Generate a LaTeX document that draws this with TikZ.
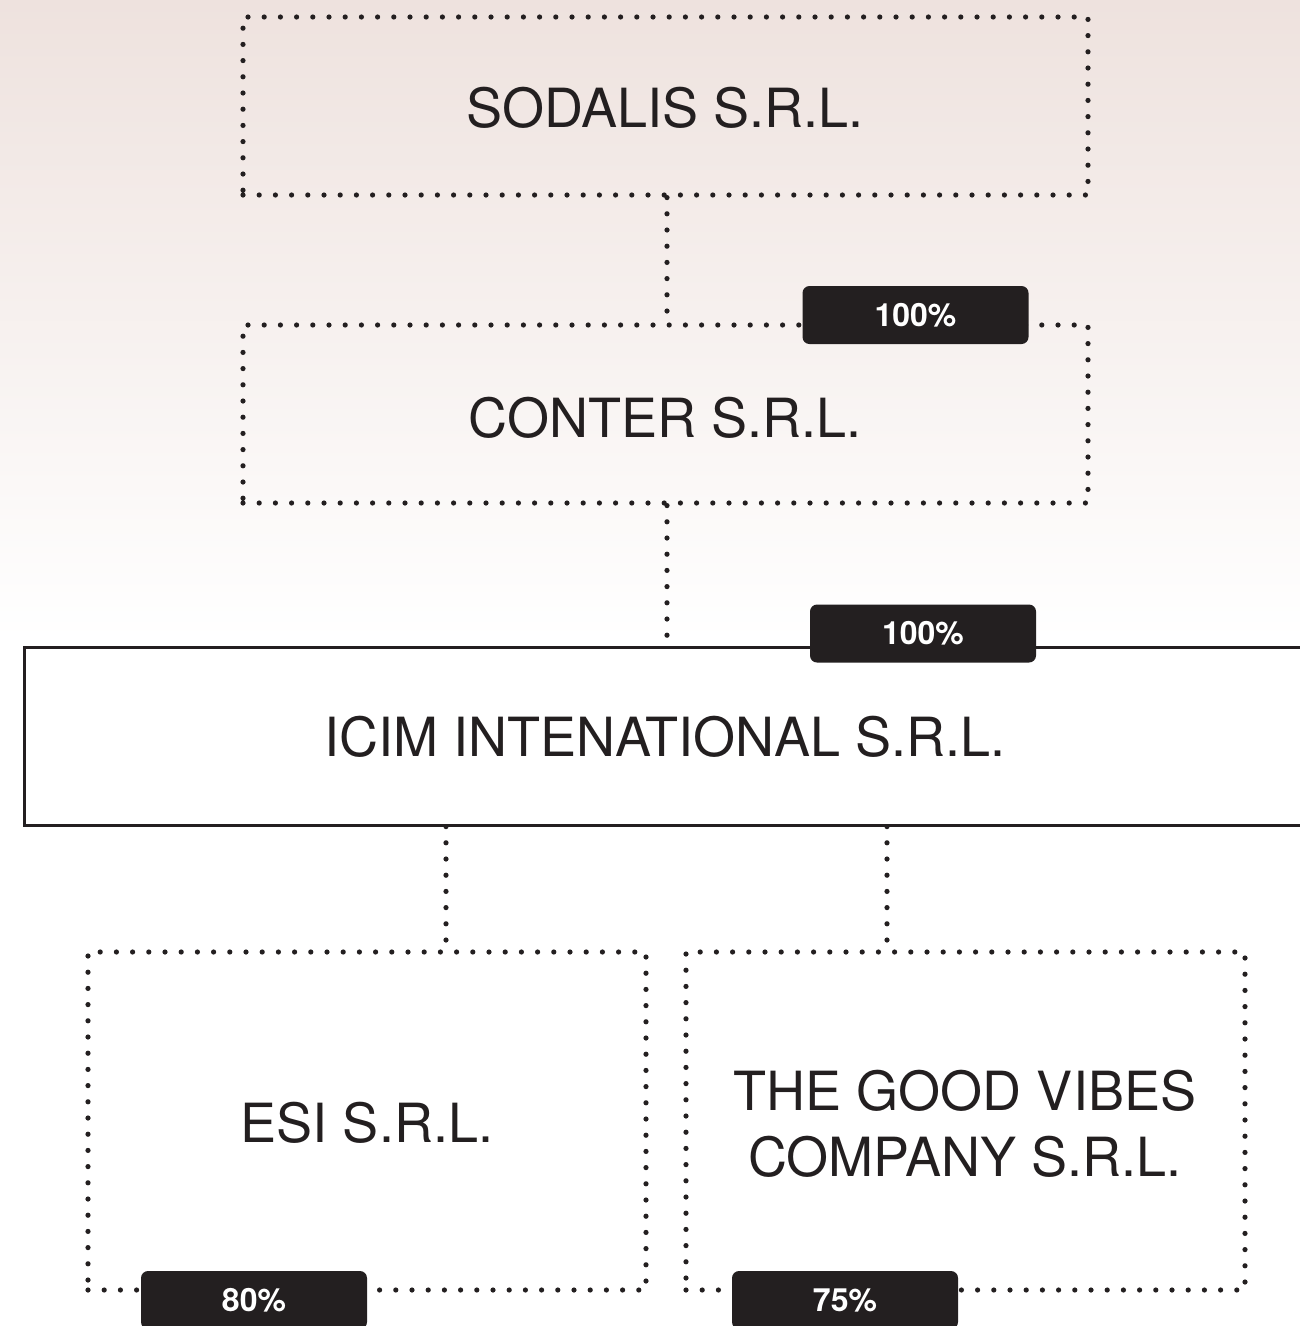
\documentclass[tikz,border=0pt]{standalone}
\usepackage{fontspec}
\setmainfont{TeX Gyre Heros}
\definecolor{ink}{HTML}{231F20}
\definecolor{blush}{HTML}{EEE2DE}
\begin{document}
\begin{tikzpicture}[x=1pt,y=-1pt,
  dotline/.style={draw=ink,line width=5.2pt,line cap=round,dash pattern=on 0pt off 16.2pt},
  dotbox/.style={dotline,rectangle,inner sep=0pt,text=ink,align=center,
    font=\fontsize{54}{66}\selectfont},
  solidbox/.style={draw=ink,line width=2.6pt,rectangle,inner sep=0pt,fill=white,text=ink,
    font=\fontsize{54}{66}\selectfont},
  badge/.style={fill=ink,rounded corners=7pt,minimum width=226pt,minimum height=58pt,
    inner sep=0pt,text=white,font=\fontsize{32}{36}\selectfont\bfseries}]
\useasboundingbox (0,0) rectangle (1300,1326);
\clip (0,0) rectangle (1300,1326);
% background
\shade[top color=blush,bottom color=white] (0,0) rectangle (1300,640);
\fill[white] (0,640) rectangle (1300,1326);
% boxes
\node[dotbox,minimum width=845pt,minimum height=178pt] (sod) at (665.5,106) {};
\node[text=ink,font=\fontsize{54}{66}\selectfont] (sodt) at (665,108) {SODALIS S.R.L.};
\node[dotbox,minimum width=845pt,minimum height=178pt] (con) at (665.5,414) {};
\node[text=ink,font=\fontsize{54}{66}\selectfont] (cont) at (665,418) {CONTER S.R.L.};
\node[solidbox,minimum width=1300pt,minimum height=178pt,anchor=north west] (icim) at (23,646) {};
\node[text=ink,font=\fontsize{54}{66}\selectfont] (icimt) at (665,737) {ICIM INTENATIONAL S.R.L.};
\node[dotbox,minimum width=558pt,minimum height=338pt] (esi) at (367,1121) {};
\node[text=ink,font=\fontsize{54}{66}\selectfont] (esit) at (367,1123) {ESI S.R.L.};
\node[dotbox,minimum width=559pt,minimum height=338pt] (gv) at (965.5,1121) {};
\node[text=ink,font=\fontsize{54}{66}\selectfont,align=center] (gvt) at (965,1124) {THE GOOD VIBES\\COMPANY S.R.L.};
% connectors
\draw[dotline] (667,195 |- sod.south) -- (667,0 |- con.north);
\draw[dotline] (667,0 |- con.south) -- (667,0 |- icim.north);
\draw[dotline] (446,0 |- icim.south) -- (446,0 |- esi.north);
\draw[dotline] (887,0 |- icim.south) -- (887,0 |- gv.north);
% badges
\node[badge] (b1) at (915.5,315) {100\%};
\node[badge] (b2) at (923,633.5) {100\%};
\node[badge] (b3) at (254,1300) {80\%};
\node[badge] (b4) at (845,1300) {75\%};
\end{tikzpicture}
\end{document}
